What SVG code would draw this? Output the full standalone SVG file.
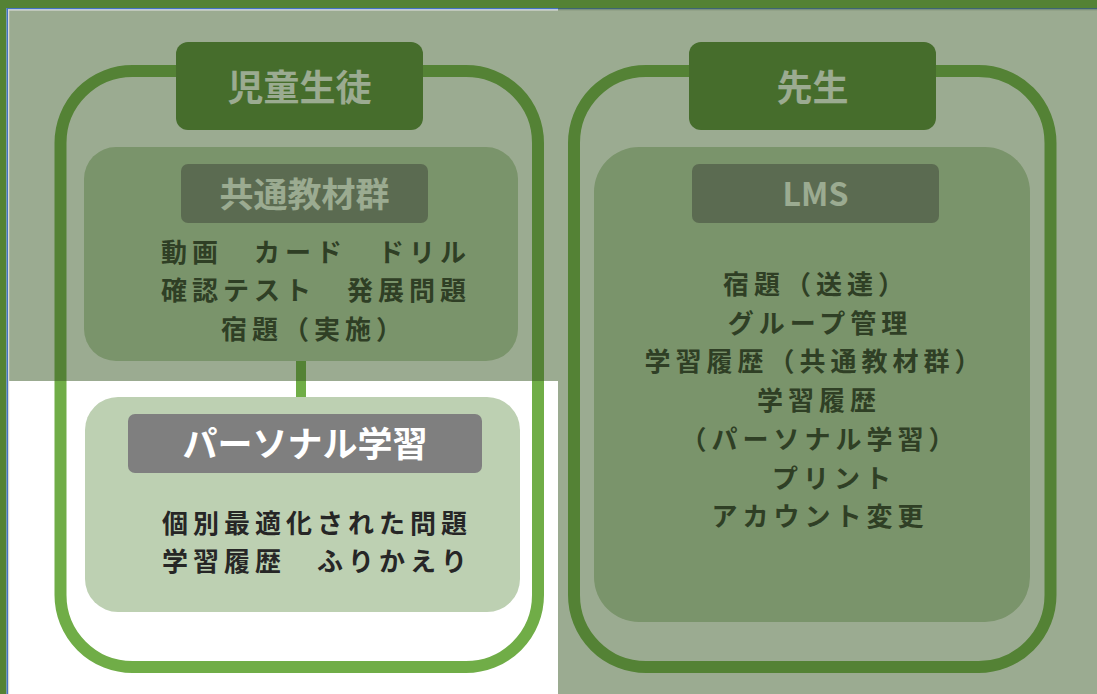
<svg xmlns="http://www.w3.org/2000/svg" width="1097" height="694" viewBox="0 0 1097 694">
<style>
.grp{fill:none;stroke:#70ad47;stroke-width:12}
.hdr{fill:#548235}
.cbox{fill:#bdd0b2}
.gbox{fill:#7f7f7f}
.t{font-family:"Noto Sans CJK JP","Noto Sans",sans-serif;font-weight:700;text-anchor:middle;dominant-baseline:central}
.b{font-size:26px;letter-spacing:5px}
.w{fill:#ffffff}
.d{fill:#262626}
</style>
<rect x="0" y="0" width="1097" height="694" fill="#ffffff"/>
<g id="frame">
<rect x="0" y="0" width="1097" height="8" fill="#548235"/>
<rect x="0" y="0" width="6.5" height="694" fill="#548235"/>
<rect x="6.5" y="8" width="1090.5" height="1.5" fill="#4472c4"/>
<rect x="6.5" y="8" width="1.5" height="686" fill="#4472c4"/>
<rect x="8" y="9.5" width="1089" height="1" fill="#d9d9d9"/>
<rect x="8" y="9.5" width="1.2" height="684.5" fill="#d9d9d9"/>
</g>
<g id="connectors">
<line x1="301" y1="358" x2="301" y2="400" stroke="#70ad47" stroke-width="10"/>
</g>
<g id="students">
<rect class="grp" x="60.5" y="71" width="477.5" height="596" rx="72"/>
<rect class="hdr" x="176" y="42" width="247" height="88" rx="12"/>
<text class="t w" x="299.5" y="85" font-size="36">児童生徒</text>
</g>
<g id="common">
<rect class="cbox" x="84" y="147" width="434" height="214" rx="32"/>
<rect class="gbox" x="181" y="164" width="247" height="59" rx="7"/>
<text class="t w" x="304.5" y="192" font-size="34">共通教材群</text>
<text class="t d b" x="316" y="250">動画　カード　ドリル</text>
<text class="t d b" x="316" y="288.5">確認テスト　発展問題</text>
<text class="t d b" x="314" y="327">宿題（実施）</text>
</g>
<g id="personal">
<rect class="cbox" x="85" y="397" width="435" height="215" rx="33"/>
<rect class="gbox" x="128" y="414" width="354" height="59" rx="7"/>
<text class="t w" x="305" y="441" font-size="35">パーソナル学習</text>
<text class="t d b" x="317" y="521">個別最適化された問題</text>
<text class="t d b" x="317" y="559">学習履歴　ふりかえり</text>
</g>
<g id="teacher">
<rect class="grp" x="574" y="71" width="476.5" height="596" rx="72"/>
<rect class="hdr" x="689" y="42" width="247" height="88" rx="12"/>
<text class="t w" x="812.5" y="85" font-size="36">先生</text>
</g>
<g id="lms">
<rect class="cbox" x="594" y="147" width="436" height="475" rx="45"/>
<rect class="gbox" x="692" y="164" width="247" height="59" rx="7"/>
<text class="t w" x="815.5" y="192" font-size="32">LMS</text>
<text class="t d b" x="816" y="282">宿題（送達）</text>
<text class="t d b" x="820" y="321">グループ管理</text>
<text class="t d b" x="815" y="359.5">学習履歴（共通教材群）</text>
<text class="t d b" x="819" y="398">学習履歴</text>
<text class="t d b" x="820" y="437">（パーソナル学習）</text>
<text class="t d b" x="834" y="476">プリント</text>
<text class="t d b" x="820" y="514.5">アカウント変更</text>
</g>
<path id="overlay" d="M9.2,10.5 H558 V8 H1097 V694 H558 V381 H9.2 Z" fill="#385723" fill-opacity="0.5"/>
</svg>
